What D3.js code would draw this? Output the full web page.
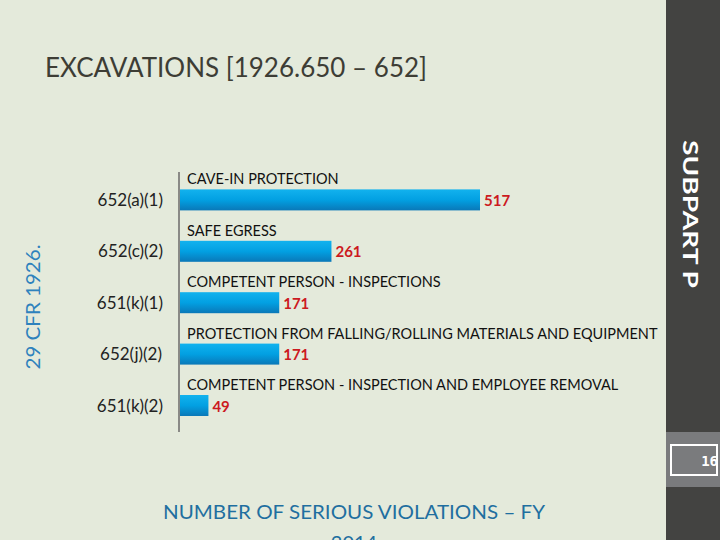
<!DOCTYPE html>
<html><head><meta charset="utf-8">
<script src="https://cdn.jsdelivr.net/npm/d3@7"></script>
<style>html,body{margin:0;padding:0;background:#e4eadb;}svg{display:block;}</style>
</head><body>
<script>
const codes = ["652(a)(1)","652(c)(2)","651(k)(1)","652(j)(2)","651(k)(2)"];
const names = ["CAVE-IN PROTECTION","SAFE EGRESS","COMPETENT PERSON - INSPECTIONS","PROTECTION FROM FALLING/ROLLING MATERIALS AND EQUIPMENT","COMPETENT PERSON - INSPECTION AND EMPLOYEE REMOVAL"];
const values = [517,261,171,171,49];

const W=720,H=540;
const svg=d3.select("body").append("svg").attr("width",W).attr("height",H);
svg.append("rect").attr("width",W).attr("height",H).attr("fill","#e4eadb");

const defs=svg.append("defs");
const g=defs.append("linearGradient").attr("id","bg").attr("x1",0).attr("y1",0).attr("x2",0).attr("y2",1);
g.append("stop").attr("offset","0%").attr("stop-color","#12b2ee");
g.append("stop").attr("offset","50%").attr("stop-color","#02a0e2");
g.append("stop").attr("offset","100%").attr("stop-color","#0a78b8");

const font="Lato, 'Open Sans', sans-serif";

// title
svg.append("text").attr("x",45).attr("y",77).attr("font-family",font).attr("font-size",26)
  .attr("fill","#3d3d35").attr("textLength",382).attr("lengthAdjust","spacingAndGlyphs")
  .text("EXCAVATIONS [1926.650 – 652]");

// right strip
svg.append("rect").attr("x",666).attr("y",0).attr("width",54).attr("height",H).attr("fill","#434341");
svg.append("rect").attr("x",666).attr("y",432).attr("width",54).attr("height",55).attr("fill","#7a7b7d");
svg.append("rect").attr("x",671).attr("y",445).attr("width",46).attr("height",30).attr("fill","none").attr("stroke","#fff").attr("stroke-width",2);
svg.append("text").attr("x",718).attr("y",466).attr("text-anchor","end").attr("font-family","'DejaVu Sans Mono', monospace").attr("font-weight","bold").attr("font-size",14).attr("fill","#fff").text("16");
svg.append("text").attr("transform","translate(683,214) rotate(90)").attr("text-anchor","middle")
  .attr("font-family",font).attr("font-weight","bold").attr("font-size",21).attr("fill","#fff")
  .attr("textLength",148).attr("lengthAdjust","spacingAndGlyphs").text("SUBPART P");

// scales
const x=d3.scaleLinear().domain([0,517]).range([180,480]);
const y=d3.scaleBand().domain(codes).range([175,432]).paddingInner(0).paddingOuter(0);
const barH=21;
const barY=c=>y(c)+y.bandwidth()-barH-16;

// axis line
svg.append("line").attr("x1",179).attr("x2",179).attr("y1",172).attr("y2",432).attr("stroke","#8a8a86").attr("stroke-width",2);

// left vertical title
svg.append("text").attr("transform","translate(40,307) rotate(-90)").attr("text-anchor","middle")
  .attr("font-family",font).attr("font-size",19).attr("fill","#2e82bd")
  .attr("textLength",125).attr("lengthAdjust","spacingAndGlyphs").text("29 CFR 1926.");

// category codes
svg.selectAll("text.code").data(codes).join("text").attr("class","code")
  .attr("x",(d,i)=>i===3?162:163).attr("y",d=>barY(d)+barH/2+6)
  .attr("text-anchor","end").attr("font-family",font).attr("font-size",17).attr("fill","#222")
  .text(d=>d);

// bars
svg.selectAll("rect.bar").data(values).join("rect").attr("class","bar")
  .attr("x",x(0)).attr("y",(d,i)=>barY(codes[i])).attr("width",d=>x(d)-x(0)).attr("height",barH)
  .attr("fill","url(#bg)");

// names
svg.selectAll("text.nm").data(names).join("text").attr("class","nm")
  .attr("x",187).attr("y",(d,i)=>barY(codes[i])-5)
  .attr("font-family",font).attr("font-size",14.5).attr("fill","#111")
  .text(d=>d);

// values
svg.selectAll("text.val").data(values).join("text").attr("class","val")
  .attr("x",d=>x(d)+4).attr("y",(d,i)=>barY(codes[i])+barH/2+6)
  .attr("font-family",font).attr("font-weight","bold").attr("font-size",15).attr("fill","#cc1a1f")
  .text(d=>d);

// bottom title
svg.append("text").attr("x",354).attr("y",519).attr("text-anchor","middle").attr("font-family",font)
  .attr("font-size",20).attr("fill","#1f6fa0").attr("textLength",382).attr("lengthAdjust","spacingAndGlyphs")
  .text("NUMBER OF SERIOUS VIOLATIONS – FY");
svg.append("text").attr("x",354).attr("y",550).attr("text-anchor","middle").attr("font-family",font)
  .attr("font-size",20).attr("fill","#1f6fa0").text("2014");
</script>
</body></html>
